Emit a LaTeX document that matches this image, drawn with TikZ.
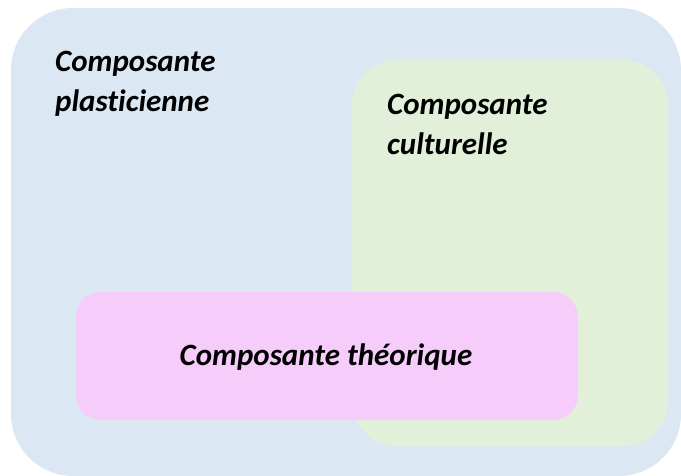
\documentclass[tikz,border=0pt]{standalone}
\usepackage{fontspec}
\setmainfont[Ligatures=NoCommon]{Carlito}
\definecolor{bleuzone}{RGB}{220,231,244}
\definecolor{vertzone}{RGB}{226,239,217}
\definecolor{rosezone}{RGB}{246,204,250}

\begin{document}
\begin{tikzpicture}[x=1pt,y=-1pt,
    zone/.style={rounded corners=#1},
    label/.style={inner sep=0,anchor=base west,text width=250pt,align=left,
        font=\fontsize{31}{40}\selectfont\bfseries\itshape}]
            \useasboundingbox (0,0) rectangle (681,476);
            \fill[bleuzone,zone=62pt] (11,8) rectangle (681,476);
            \fill[vertzone,zone=45pt] (352,60) rectangle (668,446);
            \fill[rosezone,zone=25pt] (76,292) rectangle (578,420);
            \node[label] (plast) at (55,72) {Composante\\plasticienne};
            \node[label] (cult) at (387,115) {Composante\\culturelle};
            \node[label,anchor=base,text width=,align=center] (theo) at (326,365) {Composante théorique};
        \end{tikzpicture}
\end{document}
